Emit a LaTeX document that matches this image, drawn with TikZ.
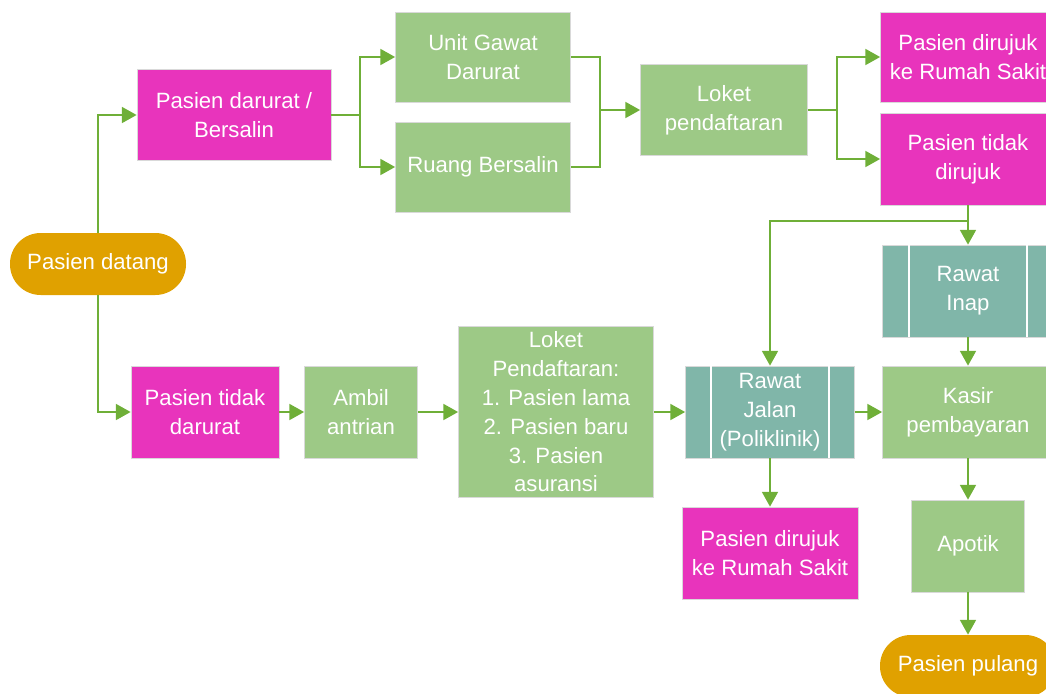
\documentclass[tikz,border=0pt]{standalone}
\usepackage{fontspec}
\setmainfont{Liberation Sans}
\usetikzlibrary{arrows.meta,calc}
\definecolor{mag}{HTML}{E834BC}
\definecolor{grn}{HTML}{9DC986}
\definecolor{teal}{HTML}{80B6A9}
\definecolor{org}{HTML}{E0A100}
\definecolor{ln}{HTML}{6FAF38}
\tikzset{
  base/.style={draw=white!85!black, line width=0.6pt, text=white, align=center,
    font=\fontsize{16.6}{21.6}\selectfont, inner sep=0pt},
  magbox/.style={base, fill=mag},
  grnbox/.style={base, fill=grn},
  tealbox/.style={base, fill=teal},
  endbox/.style={base, fill=org, draw=none, rounded corners=23pt},
  conn/.style={draw=ln, line width=1.1pt, -{Triangle[length=11pt,width=12pt]}},
  link/.style={draw=ln, line width=1.1pt},
  sep/.style={draw=white, line width=2pt},
  sz/.style 2 args={minimum width=#1*0.75pt, minimum height=#2*0.75pt}
}
\begin{document}
\begin{tikzpicture}[x=0.75pt,y=-0.75pt]
\useasboundingbox (0,0) rectangle (1046,693);
% nodes
\node[endbox, sz={176}{62}] (pd) at (98,264) {Pasien datang};
\node[magbox, sz={194}{91}] (pdb) at (234,115) {Pasien darurat /\\Bersalin};
\node[grnbox, sz={175}{90}] (ugd) at (483,57) {Unit Gawat\\Darurat};
\node[grnbox, sz={175}{90}] (rb) at (483,167) {Ruang Bersalin};
\node[grnbox, sz={167}{91}] (lp) at (724,110) {Loket\\pendaftaran};
\node[magbox, sz={175}{90}] (prs1) at (968,57) {Pasien dirujuk\\ke Rumah Sakit};
\node[magbox, sz={175}{92}] (ptr) at (968,159) {Pasien tidak\\dirujuk};
\node[tealbox, sz={171}{92}] (ri) at (968,291) {Rawat\\Inap};
\node[grnbox, sz={171}{92}] (ks) at (968,412) {Kasir\\pembayaran};
\node[grnbox, sz={113}{92}] (ap) at (968,546) {Apotik};
\node[endbox, sz={176}{62}] (pp) at (968,666) {Pasien pulang};
\node[magbox, sz={148}{92}] (ptd) at (205,412) {Pasien tidak\\darurat};
\node[grnbox, sz={113}{92}] (aa) at (361,412) {Ambil\\antrian};
\node[grnbox, sz={195}{171}] (lpl) at (556,412) {Loket\\Pendaftaran:\\1. Pasien lama\\2. Pasien baru\\3. Pasien\\asuransi};
\node[tealbox, sz={169}{92}] (rj) at (770,412) {Rawat\\Jalan\\(Poliklinik)};
\node[magbox, sz={176}{92}] (prs2) at (770,553) {Pasien dirujuk\\ke Rumah Sakit};
% predefined process separators
\draw[sep] ([xshift=26*0.75pt]rj.north west) -- ([xshift=26*0.75pt]rj.south west);
\draw[sep] ([xshift=-26*0.75pt]rj.north east) -- ([xshift=-26*0.75pt]rj.south east);
\draw[sep] ([xshift=27*0.75pt]ri.north west) -- ([xshift=27*0.75pt]ri.south west);
\draw[sep] ([xshift=-27*0.75pt]ri.north east) -- ([xshift=-27*0.75pt]ri.south east);
% junctions
\coordinate (j1) at (360,115);
\coordinate (j2) at (600,110);
\coordinate (j3) at (837,110);
\coordinate (j4) at (968,221);
% connectors
\draw[conn] (pd.north) |- (pdb.west);
\draw[conn] (pd.south) |- (ptd.west);
\draw[link] (pdb.east) -- (j1);
\draw[conn] (j1) |- (ugd.west);
\draw[conn] (j1) |- (rb.west);
\draw[link] (ugd.east) -| (j2);
\draw[link] (rb.east) -| (j2);
\draw[conn] (j2) -- (lp.west);
\draw[link] (lp.east) -- (j3);
\draw[conn] (j3) |- (prs1.west);
\draw[conn] (j3) |- (ptr.west);
\draw[conn] (ptr.south) -- (ri.north);
\draw[conn] (j4) -| (rj.north);
\draw[conn] (ri.south) -- (ks.north);
\draw[conn] (ks.south) -- (ap.north);
\draw[conn] (ap.south) -- (pp.north);
\draw[conn] (ptd.east) -- (aa.west);
\draw[conn] (aa.east) -- (lpl.west);
\draw[conn] (lpl.east) -- (rj.west);
\draw[conn] (rj.east) -- (ks.west);
\draw[conn] (rj.south) -- (prs2.north);
\end{tikzpicture}
\end{document}
